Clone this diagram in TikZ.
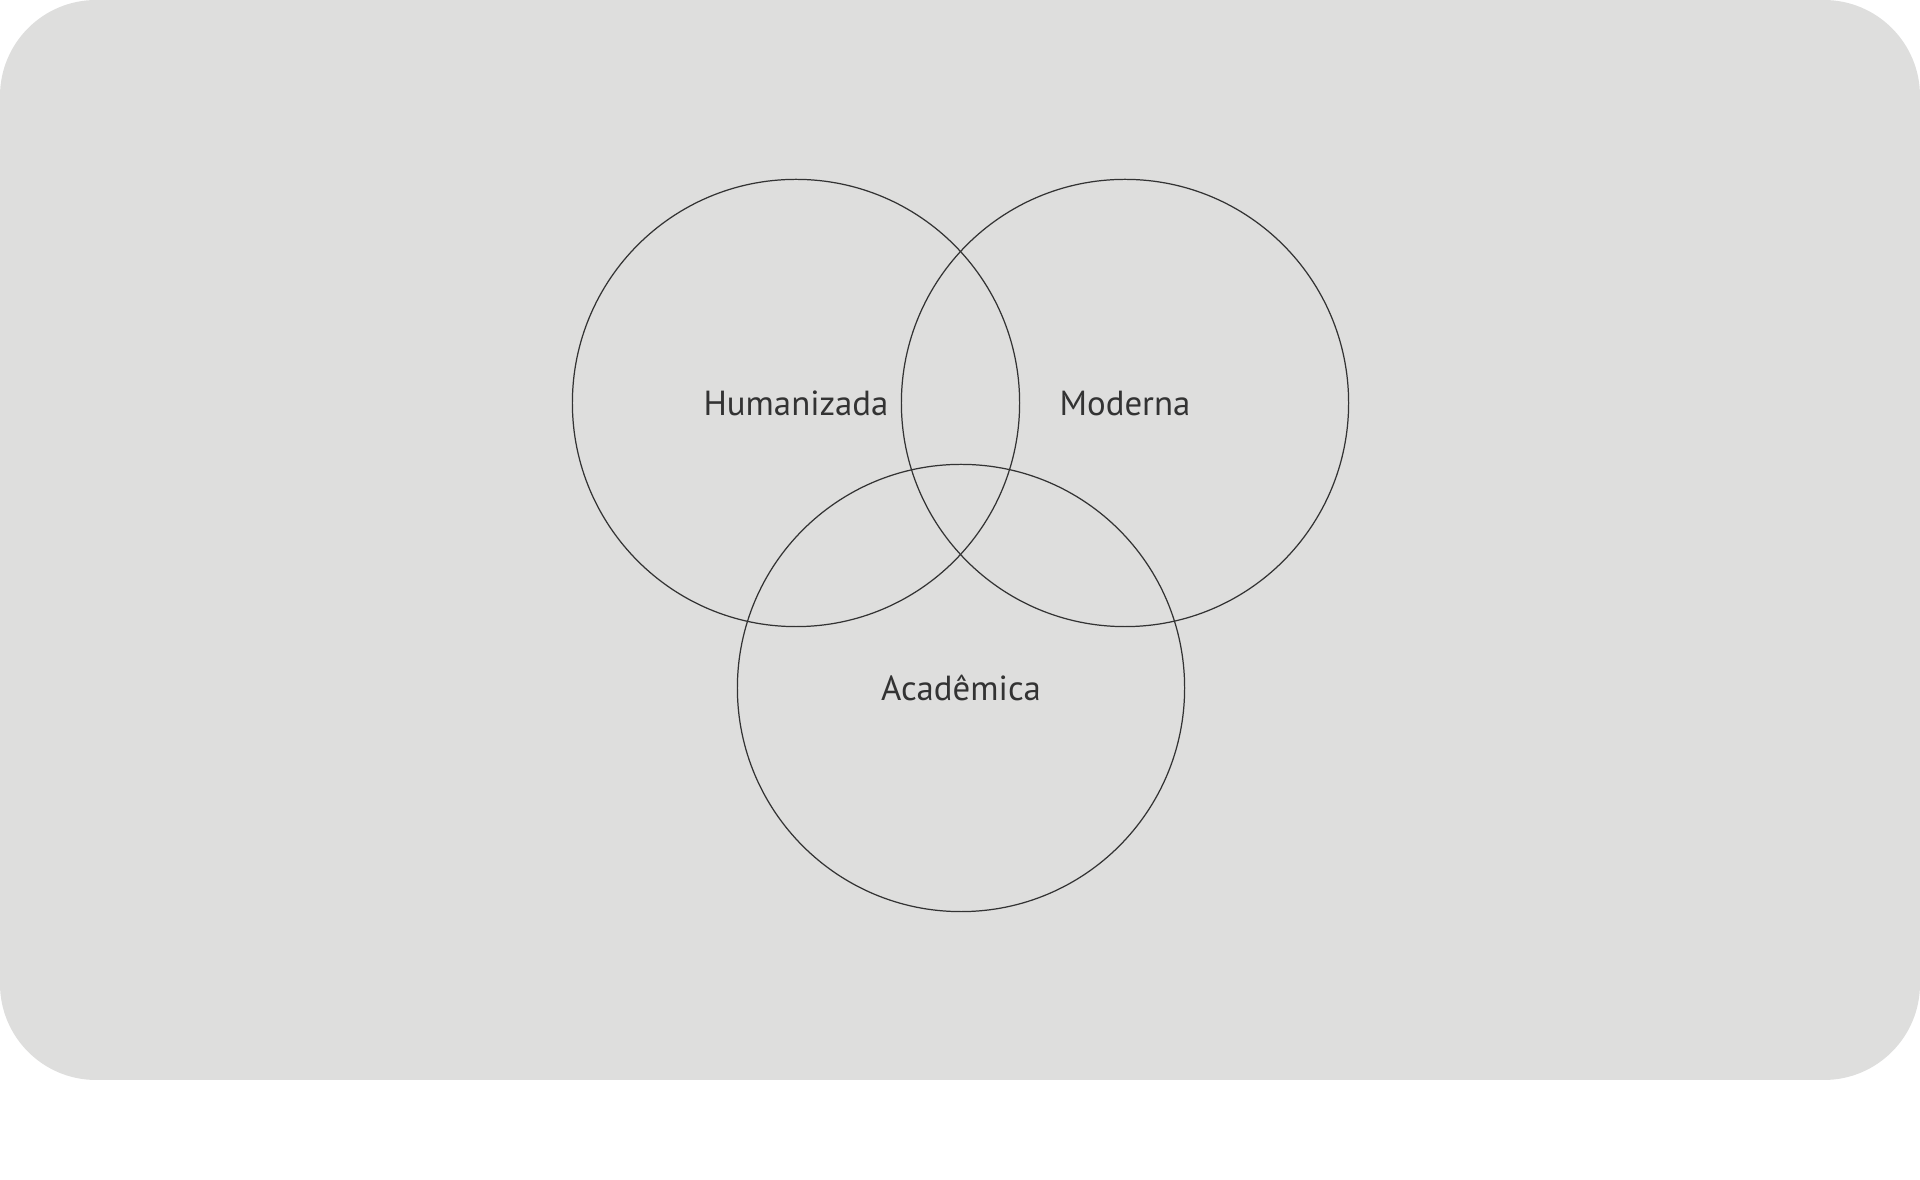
\documentclass[tikz,border=0pt]{standalone}
\usepackage{fontspec}
\setmainfont{PT Sans}
\usepackage{xcolor}
\definecolor{panelgray}{HTML}{DEDEDD}
\definecolor{inkgray}{HTML}{333333}

\begin{document}
\begin{tikzpicture}[x=0.01cm, y=-0.01cm,
    set/.style={circle, draw=inkgray, line width=0.35pt, minimum size=4.47cm,
      inner sep=0pt, text=inkgray, font=\fontsize{9.9pt}{12pt}\selectfont,
      text height=6.9pt, text depth=0pt}]
  \useasboundingbox (0,0) rectangle (1920,1180);
  \fill[panelgray, rounded corners=0.96cm] (0,0) rectangle (1920,1080);

  \node[set] (Hum) at (796,403)  {Humanizada};
  \node[set] (Mod) at (1125,403) {Moderna};
  \node[set] (Aca) at (961,688)  {Acadêmica};
\end{tikzpicture}
\end{document}
